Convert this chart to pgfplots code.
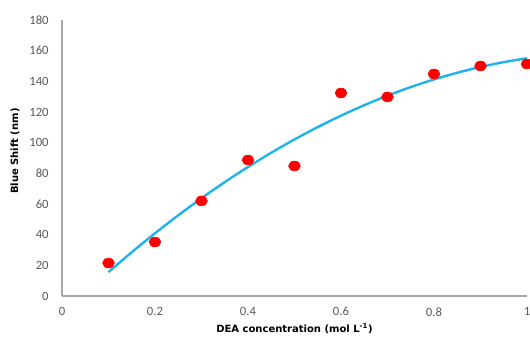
\documentclass[border=0pt]{standalone}
\usepackage{pgfplots}
\pgfplotsset{compat=1.18}
\usepackage{fontspec}
\setmainfont{Carlito}
\newfontfamily\labelfont{DejaVu Sans}
\definecolor{axisgray}{HTML}{A6A6A6}
\definecolor{tickgray}{HTML}{595959}
\definecolor{fitblue}{HTML}{1FB4E8}
\definecolor{ptred}{HTML}{FF0000}
\begin{document}
\begin{tikzpicture}
\path[use as bounding box] (-46.5pt,-31.5pt) rectangle (351pt,222pt);
\begin{axis}[
  scale only axis,
  width=348.75pt, height=207pt,
  xmin=0, xmax=1, ymin=0, ymax=180,
  xtick={0,0.2,0.4,0.6,0.8,1},
  ytick={0,20,40,60,80,100,120,140,160,180},
  axis x line*=bottom, axis y line*=left,
  axis line style={draw=axisgray, line width=0.9pt},
  major tick length=0pt,
  /pgf/number format/assume math mode=true,
  tick label style={font=\fontsize{9.5}{10}\selectfont, text=tickgray},
  xticklabel style={yshift=-5pt},
  yticklabel style={xshift=-6.5pt},
  xlabel={\textbf{DEA concentration (mol L\textsuperscript{-1})}},
  ylabel={\textbf{Blue Shift (nm)}},
  label style={font=\labelfont\fontsize{7.5}{9}\selectfont},
  xlabel style={at={(axis description cs:0.5,-0.1196)}, anchor=center},
  ylabel style={at={(axis description cs:-0.1011,0.525)}, anchor=center, rotate=0},
  clip=false,
]
\addplot[fitblue, line width=1.8pt, no marks, smooth] coordinates {
(0.10,15.6) (0.15,28.56) (0.20,40.91) (0.25,52.64) (0.30,63.76) (0.35,74.27)
(0.40,84.17) (0.45,93.44) (0.50,102.11) (0.55,110.17) (0.60,117.61) (0.65,124.44)
(0.70,130.65) (0.75,136.25) (0.80,141.24) (0.85,145.62) (0.90,149.37) (0.95,152.52)
(1.00,155.05)
};
\addplot[only marks, mark=*, mark size=3.7pt, draw=ptred, fill=ptred,
  mark options={xscale=1.2}] coordinates {
(0.1,21.5) (0.2,35.2) (0.3,62.0) (0.4,88.7) (0.5,84.8)
(0.6,132.4) (0.7,129.8) (0.8,144.8) (0.9,150.0) (1.0,151.3)
};
\end{axis}
\end{tikzpicture}
\end{document}
